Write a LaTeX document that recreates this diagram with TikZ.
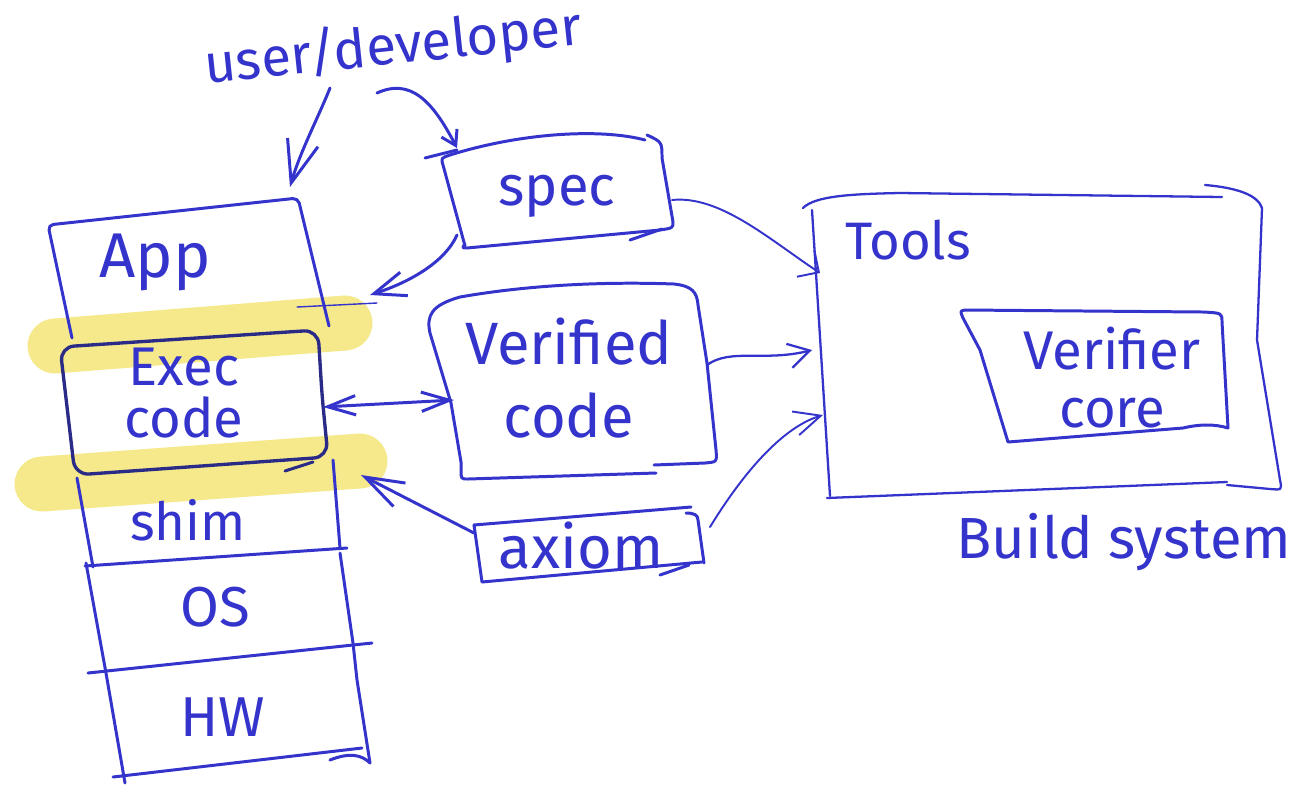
\documentclass[tikz,border=0pt]{standalone}
\usepackage{fontspec}
\setmainfont{Fira Sans}
\usetikzlibrary{arrows.meta}
\definecolor{ink}{RGB}{52,52,204}
\definecolor{inkdark}{RGB}{42,42,135}
\definecolor{hilite}{RGB}{245,233,140}
\tikzset{
  hand/.style={draw=ink, line width=1.7pt, line cap=round, line join=round},
  handthin/.style={draw=ink, line width=1.1pt, line cap=round, line join=round},
  marker/.style={draw=hilite, line width=1.1cm, line cap=round},
  lbl/.style={text=ink, inner sep=0pt, align=center},
  fs/.style 2 args={font=\fontsize{#1}{#2}\selectfont},
  barb/.style 2 args={arrows={-{Straight Barb[length=#1,width=#2]}}},
  dbarb/.style 2 args={arrows={{Straight Barb[length=#1,width=#2]}-{Straight Barb[length=#1,width=#2]}}},
}
\begin{document}
\begin{tikzpicture}[x=0.02cm,y=-0.02cm]
\fill[white] (0,0) rectangle (1297,785);
\useasboundingbox (0,0) rectangle (1297,785);

% highlighter strokes
\draw[marker] (55,346) -- (345,323);
\draw[marker] (42,484) -- (360,461);

% ---- stack ----
% App
\draw[hand, rounded corners=3pt] (72,338) -- (48,225) -- (298,198) -- (329,326);
\draw[handthin, line width=0.8pt] (297,307) -- (377,303);
% Exec code
\draw[hand, draw=inkdark, line width=1.9pt, rounded corners=8pt] (60,347) -- (318,330) -- (322,395) -- (328,457) -- (75,475) -- cycle;
\draw[hand, draw=inkdark] (285,471) -- (313,462);
% shim
\draw[hand] (77,478) -- (93,567);
\draw[hand] (333,460) -- (340,548);
\draw[hand] (85,566) -- (347,548);
% OS / HW
\draw[hand] (86,563) -- (106,673) -- (125,783);
\draw[hand] (340,553) -- (353,643) -- (357,680) -- (370,763);
\draw[hand] (88,673) -- (372,643);
\draw[hand] (113,777) -- (362,748);
\draw[hand] (330,760) .. controls (350,752) and (362,755) .. (370,763);

\node[lbl, fs={36}{40}] (app) at (155,262) {App};
\node[lbl, fs={31}{30}] (exec) at (184,393) {Exec\\code};
\node[lbl, fs={30}{34}] (shim) at (188,520) {shim};
\node[lbl, fs={32}{36}] (os) at (215,607) {OS};
\node[lbl, fs={32}{36}] (hw) at (223,717) {HW};

% ---- user/developer ----
\node[lbl, fs={31}{36}, rotate=6] (user) at (393,48) {user/developer};

% ---- spec ----
\draw[hand] (425,158) -- (457,150);
\draw[hand] (465,246) -- (443,165) .. controls (441,158) .. (450,155) .. controls (520,133) and (600,128) .. (645,140);
\draw[hand] (647,135) .. controls (662,142) .. (662,158) -- (673,222) .. controls (673,228) .. (660,230) -- (467,248) .. controls (462,248) .. (465,244);
\draw[hand] (630,240) -- (662,229);
\node[lbl, fs={32}{36}] (spec) at (557,196) {spec};

% ---- verified code ----
\draw[hand] (461,462) -- (451,403) -- (430,333) .. controls (426,315) and (432,305) .. (460,297) .. controls (540,283) and (620,282) .. (674,284) .. controls (692,286) and (697,292) .. (698,305) -- (707,363) -- (716,450) .. controls (717,462) .. (705,463) -- (654,465);
\draw[hand] (656,473) -- (468,479) .. controls (461,479) .. (461,470) -- (461,462);
\node[lbl, fs={34}{42}] (ver) at (569,378) {Verified\\code};

% ---- axiom ----
\draw[hand] (474,525) -- (691,507);
\draw[hand] (686,513) .. controls (694,513) and (698,515) .. (698,520) -- (704,563);
\draw[hand] (474,525) -- (482,582) -- (702,562);
\draw[hand] (660,575) -- (689,565);
\node[lbl, fs={34}{38}] (axiom) at (581,546) {axiom};

% ---- Tools / build system ----
\draw[handthin, line width=1.3pt] (803,208) .. controls (815,196) and (850,194) .. (900,193) -- (1222,197);
\draw[handthin, line width=1.3pt] (1205,185) .. controls (1240,188) and (1258,196) .. (1262,208) -- (1257,340) -- (1280,480) .. controls (1282,490) .. (1270,489) -- (1227,485);
\draw[handthin, line width=1.3pt] (1227,482) -- (827,498);
\draw[handthin, line width=1.3pt] (812,210) -- (830,496);
\node[lbl, fs={30}{34}] (tools) at (908,240) {Tools};

\draw[hand] (965,310) -- (1203,312) .. controls (1222,313) .. (1222,322) -- (1228,428) .. controls (1215,424) and (1200,424) .. (1183,428) -- (1008,442) -- (980,350) -- (963,318) .. controls (960,311) .. (965,310);
\node[lbl, fs={31}{33}] (vcore) at (1112,378) {Verifier\\core};

\node[lbl, fs={33}{38}] (build) at (1124,542) {Build system};

% ---- connector end points ----
\coordinate (uApp) at (330,88);
\coordinate (appTop) at (290,187);
\coordinate (uSpec) at (377,93);
\coordinate (specTop) at (457,148);
\coordinate (specBot) at (457,235);
\coordinate (appRight) at (370,295);
\coordinate (specRight) at (672,200);
\coordinate (toolsA) at (820,273);
\coordinate (verRight) at (707,365);
\coordinate (toolsB) at (812,350);
\coordinate (axRight) at (710,527);
\coordinate (toolsC) at (823,415);
\coordinate (execRight) at (323,407);
\coordinate (verLeft) at (454,400);
\coordinate (axLeft) at (474,533);
\coordinate (shimTop) at (361,475);

% ---- connectors ----
\draw[hand, barb={24pt}{18pt}] (uApp) .. controls (318,118) and (300,152) .. (appTop);
\draw[hand, barb={8pt}{10pt}] (uSpec) .. controls (410,78) and (432,100) .. (specTop);
\draw[hand, barb={18pt}{14pt}] (specBot) .. controls (445,262) and (410,282) .. (appRight);
\draw[handthin, barb={9pt}{18pt}] (specRight) .. controls (720,195) and (770,240) .. (toolsA);
\draw[handthin, line width=1.3pt, barb={12pt}{14pt}] (verRight) .. controls (730,348) and (765,362) .. (toolsB);
\draw[handthin, barb={15pt}{14pt}] (axRight) .. controls (740,478) and (780,428) .. (toolsC);
\draw[hand, dbarb={16pt}{11pt}] (execRight) -- (verLeft);
\draw[hand, barb={22pt}{15pt}] (axLeft) -- (shimTop);
\end{tikzpicture}
\end{document}
